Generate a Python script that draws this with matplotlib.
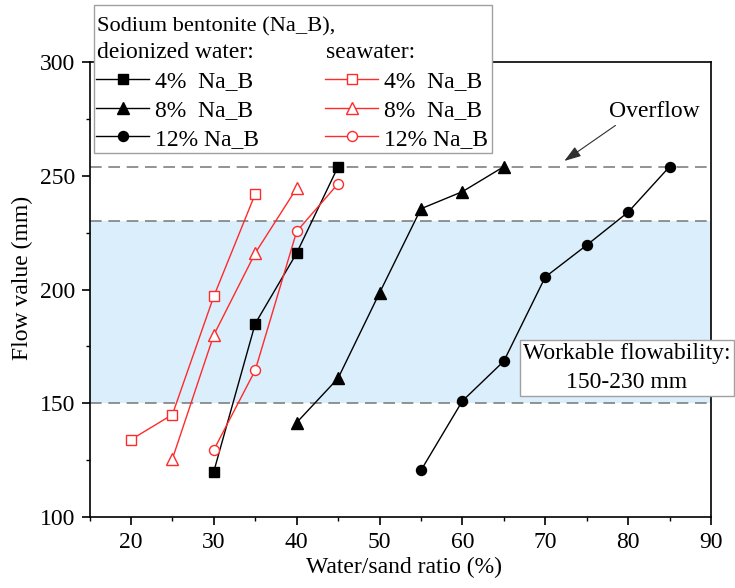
import matplotlib
matplotlib.use("Agg")
import matplotlib.pyplot as plt
from matplotlib.ticker import MultipleLocator
from matplotlib.patches import Rectangle

plt.rcParams['font.family'] = ['Liberation Serif', 'DejaVu Serif']

# ---- data ----
di4_x = [30, 35, 40, 45]
di4_y = [120, 185, 216, 254]
di8_x = [40, 45, 50, 55, 60, 65]
di8_y = [141.5, 161, 198.5, 235.5, 243, 254]
di12_x = [55, 60, 65, 70, 75, 80, 85]
di12_y = [120.5, 151, 168.5, 205.5, 219.5, 234, 254]
sw4_x = [20, 25, 30, 35]
sw4_y = [134, 145, 197, 242]
sw8_x = [25, 30, 35, 40]
sw8_y = [125.5, 180, 216, 244.5]
sw12_x = [30, 35, 40, 45]
sw12_y = [129.5, 164.5, 225.5, 246.5]

band_low, band_high = 150, 230
overflow = 254

xticks = [20, 30, 40, 50, 60, 70, 80, 90]
yticks = [100, 150, 200, 250, 300]

W, H = 735, 588
FS = 17
fig = plt.figure(figsize=(W/100, H/100), dpi=100)
ax = fig.add_axes([89.5/W, 1-517/H, (711-89.5)/W, (517-62)/H])

ax.axhspan(band_low, band_high, color='#dbeefc', zorder=0, lw=0)
for yv in (band_low, band_high, overflow):
    ax.axhline(yv, color='#808080', lw=1.2, dashes=(7, 4), zorder=1)

red = '#ff2a2a'
ax.plot(di4_x, di4_y, color='black', lw=1, marker='s', ms=7, label='4%  Na_B', zorder=3)
ax.plot(di8_x, di8_y, color='black', lw=1, marker='^', ms=8, label='8%  Na_B', zorder=3)
ax.plot(di12_x, di12_y, color='black', lw=1, marker='o', ms=7.2, label='12% Na_B', zorder=3)
ax.plot(sw4_x, sw4_y, color=red, lw=1, marker='s', ms=7, mfc='white', mec=red, mew=1, label='4%  Na_B', zorder=3)
ax.plot(sw8_x, sw8_y, color=red, lw=1, marker='^', ms=8, mfc='white', mec=red, mew=1, label='8%  Na_B', zorder=3)
ax.plot(sw12_x, sw12_y, color=red, lw=1, marker='o', ms=7.2, mfc='white', mec=red, mew=1, label='12% Na_B', zorder=3)

ax.set_xlim(15, 90)
ax.set_ylim(100, 300)
ax.set_xticks(xticks)
ax.set_yticks(yticks)
ax.xaxis.set_minor_locator(MultipleLocator(5))
ax.yaxis.set_minor_locator(MultipleLocator(25))
ax.tick_params(which='major', direction='out', length=5.8, width=1.2, labelsize=FS)
ax.tick_params(axis='y', which='major', pad=4.5)
ax.tick_params(axis='x', which='major', pad=5)
ax.tick_params(which='minor', direction='out', length=3, width=1.0)
for s in ax.spines.values():
    s.set_linewidth(1.2)
ax.set_xlabel('Water/sand ratio (%)', fontsize=FS)
ax.set_ylabel('Flow value (mm)', fontsize=FS)
ax.xaxis.set_label_coords((403.5-89.5)/621.5, (517-557)/455)
ax.yaxis.set_label_coords((33-89.5)/621.5, (517-278)/455)

ax.annotate('Overflow', xy=(72.3, 256.5), xytext=(83.1, 278.3), fontsize=FS,
            ha='center', va='center',
            arrowprops=dict(arrowstyle='-|>,head_length=0.6,head_width=0.2', color='#303030',
                            lw=0.8, relpos=(0.15, 0.05), shrinkA=1, shrinkB=0))

ax.text(79.85, 165.5, 'Workable flowability:\n150-230 mm', fontsize=FS, ha='center', va='center',
        linespacing=1.45, zorder=6, clip_on=False,
        bbox=dict(boxstyle='square,pad=0.15', fc='white', ec='#a0a0a0', lw=1))

# legend frame and headers
frame = Rectangle((94/W, 1-153/H), (492-94)/W, (153-5)/H, transform=fig.transFigure,
                  fc='white', ec='#a0a0a0', lw=1, clip_on=False, zorder=9)
ax.add_artist(frame)
ax.text(97/W, 1-31/H, 'Sodium bentonite (Na_B),', transform=fig.transFigure, fontsize=16.2,
        ha='left', va='baseline', zorder=11, clip_on=False)
ax.text(97/W, 1-58/H, 'deionized water:', transform=fig.transFigure, fontsize=FS,
        ha='left', va='baseline', zorder=11, clip_on=False)
ax.text(326/W, 1-58/H, 'seawater:', transform=fig.transFigure, fontsize=FS,
        ha='left', va='baseline', zorder=11, clip_on=False)

leg = ax.legend(ncol=2, fontsize=FS, loc='upper left',
                bbox_to_anchor=(96/W, 1-71/H), bbox_transform=fig.transFigure,
                borderaxespad=0, borderpad=0, handlelength=2.25, handletextpad=0.25,
                columnspacing=2.8, labelspacing=0.3, frameon=False)
leg.set_zorder(10)

fig.savefig('out.png', dpi=100)
